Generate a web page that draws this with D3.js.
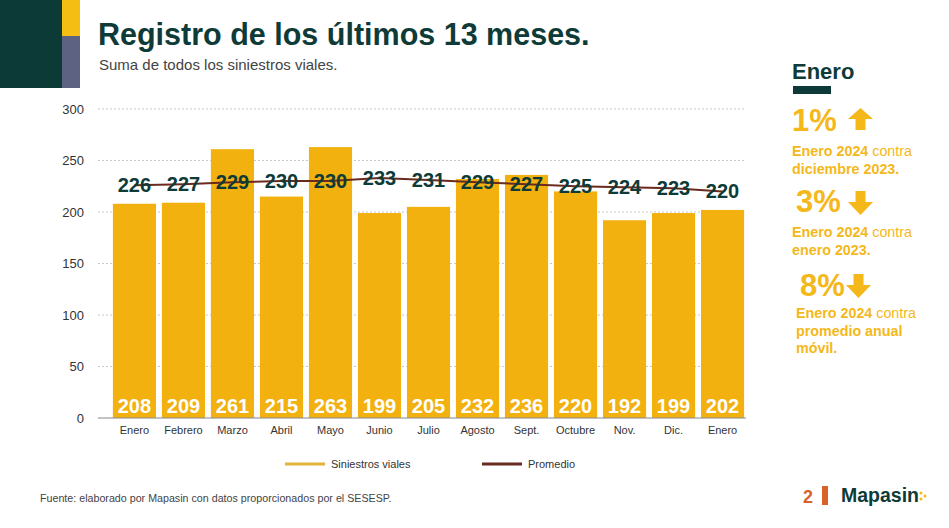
<!DOCTYPE html>
<html>
<head>
<meta charset="utf-8">
<script src="https://cdn.jsdelivr.net/npm/d3@7"></script>
<style>
  body { margin: 0; background: #fff; }
  svg { display: block; font-family: "Liberation Sans", Arial, sans-serif; }
</style>
</head>
<body>
<svg id="chart" width="949" height="528"></svg>
<script>
// data
const months = ["Enero", "Febrero", "Marzo", "Abril", "Mayo", "Junio", "Julio", "Agosto", "Sept.", "Octubre", "Nov.", "Dic.", "Enero"];
const siniestros = [208, 209, 261, 215, 263, 199, 205, 232, 236, 220, 192, 199, 202];
const promedio = [226, 227, 229, 230, 230, 233, 231, 229, 227, 225, 224, 223, 220];
const yTicks = [0, 50, 100, 150, 200, 250, 300];

const dark = "#0e3b38";
const gold = "#f2b10f";
const brown = "#6b2a1e";

const svg = d3.select("#chart");

// header blocks
svg.append("rect").attr("x", 0).attr("y", 0).attr("width", 62).attr("height", 88).attr("fill", "#0c3a36");
svg.append("rect").attr("x", 62).attr("y", 0).attr("width", 18).attr("height", 36).attr("fill", "#f4be12");
svg.append("rect").attr("x", 62).attr("y", 36).attr("width", 18).attr("height", 52).attr("fill", "#5d6282");

svg.append("text").attr("x", 98).attr("y", 45)
  .attr("font-size", 30.5).attr("font-weight", "bold").attr("fill", dark)
  .text("Registro de los últimos 13 meses.");
svg.append("text").attr("x", 99).attr("y", 70)
  .attr("font-size", 15).attr("fill", "#444")
  .text("Suma de todos los siniestros viales.");

// scales
const x = d3.scaleBand().domain(d3.range(months.length)).range([107, 750]).paddingInner(0.12).paddingOuter(0.12);
const y = d3.scaleLinear().domain([0, 300]).range([418, 109]);

// grid
svg.append("g").selectAll("line").data(yTicks.filter(d => d > 0)).join("line")
  .attr("x1", 98).attr("x2", 746)
  .attr("y1", d => y(d)).attr("y2", d => y(d))
  .attr("stroke", "#bbb").attr("stroke-width", 0.8).attr("stroke-dasharray", "2,2");

// y axis labels
const yAxis = svg.append("g").attr("transform", "translate(92,0)")
  .call(d3.axisLeft(y).tickValues(yTicks).tickSize(0).tickPadding(8));
yAxis.select(".domain").remove();
yAxis.selectAll("text").attr("font-size", 13).attr("fill", "#333").attr("font-family", "Liberation Sans, Arial, sans-serif");

// bars
svg.append("g").selectAll("rect").data(siniestros).join("rect")
  .attr("x", (d, i) => x(i)).attr("width", x.bandwidth())
  .attr("y", d => y(d)).attr("height", d => y(0) - y(d))
  .attr("fill", gold);

// baseline
svg.append("line").attr("x1", 98).attr("x2", 746).attr("y1", y(0)).attr("y2", y(0))
  .attr("stroke", "#888").attr("stroke-width", 1.2);

// x axis labels
const xAxis = svg.append("g").attr("transform", `translate(0,${y(0)})`)
  .call(d3.axisBottom(x).tickFormat(i => months[i]).tickSize(0).tickPadding(8));
xAxis.select(".domain").remove();
xAxis.selectAll("text").attr("font-size", 11).attr("fill", "#333").attr("font-family", "Liberation Sans, Arial, sans-serif");

// bar value labels
svg.append("g").selectAll("text").data(siniestros).join("text")
  .attr("x", (d, i) => x(i) + x.bandwidth() / 2).attr("y", 413)
  .attr("text-anchor", "middle").attr("font-size", 20).attr("font-weight", "bold").attr("fill", "#fff")
  .text(d => d);

// promedio line
const line = d3.line().x((d, i) => x(i) + x.bandwidth() / 2).y(d => y(d));
svg.append("path").datum(promedio).attr("d", line)
  .attr("fill", "none").attr("stroke", brown).attr("stroke-width", 2);

svg.append("g").selectAll("text").data(promedio).join("text")
  .attr("x", (d, i) => x(i) + x.bandwidth() / 2).attr("y", d => y(d) + 7)
  .attr("text-anchor", "middle").attr("font-size", 20).attr("font-weight", "bold").attr("fill", dark)
  .text(d => d);

// legend
const legend = [
  { label: "Siniestros viales", color: "#e2b23a", x: 285 },
  { label: "Promedio", color: brown, x: 482 }
];
const lg = svg.append("g").selectAll("g").data(legend).join("g")
  .attr("transform", d => `translate(${d.x},464)`);
lg.append("line").attr("x1", 0).attr("x2", 40).attr("stroke", d => d.color).attr("stroke-width", 3);
lg.append("text").attr("x", 46).attr("y", 4).attr("font-size", 11).attr("fill", "#333").text(d => d.label);

// right panel
const panel = svg.append("g");
panel.append("text").attr("x", 792).attr("y", 79).attr("font-size", 22).attr("font-weight", "bold")
  .attr("fill", dark).text("Enero");
panel.append("rect").attr("x", 793).attr("y", 86).attr("width", 38).attr("height", 8).attr("fill", dark);

const upArrow = "M0,11 L12.5,0 L25,11 L17.5,11 L17.5,22 L7.5,22 L7.5,11 Z";
const downArrow = "M7.5,0 L17.5,0 L17.5,11 L25,11 L12.5,24 L0,11 L7.5,11 Z";

const stats = [
  { pct: "1%", px: 792, py: 131, arrow: upArrow, ax: 848, ay: 108, lx: 792,
    lines: [[["Enero 2024", true], [" contra", false]], [["diciembre 2023.", true]]], ly: 156 },
  { pct: "3%", px: 796, py: 212, arrow: downArrow, ax: 848, ay: 191, lx: 792,
    lines: [[["Enero 2024", true], [" contra", false]], [["enero 2023.", true]]], ly: 237 },
  { pct: "8%", px: 800, py: 296, arrow: downArrow, ax: 846, ay: 274, lx: 796,
    lines: [[["Enero 2024", true], [" contra", false]], [["promedio anual", true]], [["móvil.", true]]], ly: 318 }
];
stats.forEach(s => {
  panel.append("text").attr("x", s.px).attr("y", s.py).attr("font-size", 31).attr("font-weight", "bold")
    .attr("fill", "#f4b81a").text(s.pct);
  panel.append("path").attr("d", s.arrow).attr("transform", `translate(${s.ax},${s.ay})`).attr("fill", "#f4b81a");
  s.lines.forEach((ln, k) => {
    const t = panel.append("text").attr("x", s.lx).attr("y", s.ly + k * 17.5)
      .attr("font-size", 14.3).attr("fill", "#f4b81a");
    ln.forEach(([str, b]) => t.append("tspan").attr("font-weight", b ? "bold" : "normal").text(str));
  });
});

// footer
svg.append("text").attr("x", 40).attr("y", 502).attr("font-size", 10.7).attr("fill", "#444")
  .text("Fuente: elaborado por Mapasin con datos proporcionados por el SESESP.");
svg.append("text").attr("x", 803).attr("y", 503).attr("font-size", 18).attr("font-weight", "bold")
  .attr("fill", "#d9622b").text("2");
svg.append("rect").attr("x", 822).attr("y", 486).attr("width", 6).attr("height", 19).attr("fill", "#d9622b");
svg.append("text").attr("x", 841).attr("y", 502).attr("font-size", 19.5).attr("font-weight", "bold")
  .attr("fill", dark).text("Mapasin");
svg.append("g").selectAll("circle").data([[921, 493], [921, 499], [925, 496]]).join("circle")
  .attr("cx", d => d[0]).attr("cy", d => d[1]).attr("r", 1.5).attr("fill", "#f4b81a");
</script>
</body>
</html>
